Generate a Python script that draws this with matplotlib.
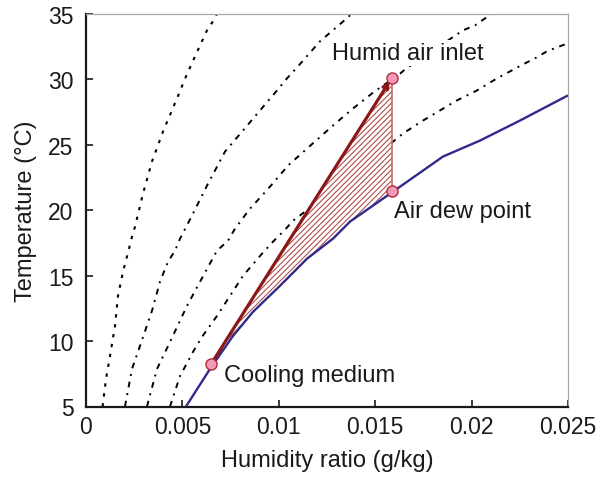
import numpy as np
import matplotlib
matplotlib.use("Agg")
import matplotlib.pyplot as plt
from matplotlib.patches import Polygon

plt.rcParams['font.family'] = ['Liberation Sans', 'DejaVu Sans']
plt.rcParams['hatch.linewidth'] = 0.75
plt.rcParams['hatch.color'] = '#ab4545'

# ---- data (humidity ratio, temperature) ----
rh1_w = [0.00086, 0.001037, 0.001245, 0.001504, 0.00166, 0.001919, 0.00223, 0.002386, 0.002541,
         0.002956, 0.003423, 0.003994, 0.00472, 0.005187, 0.005654, 0.006276, 0.006691, 0.006795]
rh1_t = [5.0, 7.10, 8.86, 11.16, 13.45, 15.29, 17.05, 17.97, 18.73,
         21.26, 23.71, 26.00, 28.53, 30.21, 31.74, 33.73, 34.65, 35.03]

rh2_w = [0.00202, 0.002386, 0.002801, 0.003423, 0.003838, 0.004253, 0.004616, 0.004876, 0.005498,
         0.006068, 0.006328, 0.00721, 0.008143, 0.009025, 0.009907, 0.010425, 0.010996, 0.012137,
         0.01359, 0.013797]
rh2_t = [5.0, 7.87, 9.63, 12.31, 14.53, 16.06, 16.90, 17.82, 19.58,
         21.26, 22.02, 24.47, 26.08, 27.61, 29.14, 30.06, 30.98, 32.89,
         34.73, 35.03]

rh3_w = [0.003164, 0.003683, 0.004357, 0.005239, 0.005913, 0.006795, 0.007365, 0.007728, 0.008506,
         0.009129, 0.009544, 0.010477, 0.011463, 0.012811, 0.013849, 0.014834, 0.015405, 0.016131,
         0.016546, 0.019554, 0.020176, 0.020851, 0.02111]
rh3_t = [5.0, 7.87, 9.93, 12.69, 14.53, 16.90, 17.66, 18.58, 20.11,
         21.11, 21.79, 23.40, 24.70, 26.46, 27.76, 28.91, 29.52, 30.21,
         30.75, 33.73, 34.11, 34.80, 35.03]

rh4_w = [0.004357, 0.004876, 0.00555, 0.006017, 0.006795, 0.007469, 0.008143, 0.009129, 0.009699,
         0.010322, 0.010737, 0.011359, 0.016131, 0.016442, 0.01748, 0.018102, 0.019139, 0.02028,
         0.021318, 0.022666, 0.023288, 0.023911, 0.024429, 0.025]
rh4_t = [5.0, 7.33, 9.17, 10.32, 11.92, 13.45, 14.98, 16.67, 17.59,
         18.50, 19.19, 19.88, 25.47, 25.85, 26.84, 27.38, 28.30, 29.14,
         30.06, 31.13, 31.59, 32.13, 32.43, 32.74]

sat_w = [0.005187, 0.006432, 0.007624, 0.008662, 0.010062, 0.011463, 0.012811, 0.013693,
         0.015923, 0.018517, 0.020436, 0.022510, 0.025]
sat_t = [5.0, 7.87, 10.39, 12.23, 14.22, 16.29, 17.82, 19.12,
         21.41, 24.09, 25.31, 26.84, 28.76]

cool_pt = (0.00648, 8.22)
inlet_pt = (0.01587, 30.12)
dew_pt = (0.01587, 21.47)

labels = ["Humid air inlet", "Air dew point", "Cooling medium"]
label_pos = [(0.01276, 31.55), (0.01598, 19.46), (0.00716, 6.92)]

xticks = [0, 0.005, 0.01, 0.015, 0.02, 0.025]
xticklabels = ["0", "0.005", "0.01", "0.015", "0.02", "0.025"]
yticks = [5, 10, 15, 20, 25, 30, 35]

# ---- figure ----
fig = plt.figure(figsize=(6.06, 4.81), dpi=100)
ax = fig.add_axes([86 / 606, 1 - 407.5 / 481, (568 - 86) / 606, (407.5 - 14.7) / 481])

dash_a = (0, (1.6, 3.2))
dash_b = (0, (3.0, 3.0, 1.0, 3.0))
ax.plot(rh1_w, rh1_t, color='black', lw=1.5, linestyle=dash_a, zorder=1)
ax.plot(rh2_w, rh2_t, color='black', lw=1.4, linestyle=dash_b, zorder=1)
ax.plot(rh3_w, rh3_t, color='black', lw=1.4, linestyle=dash_b, zorder=1)
ax.plot(rh4_w, rh4_t, color='black', lw=1.4, linestyle=dash_b, zorder=1)

# hatched region between process line and saturation curve
sw = np.array(sat_w)
st = np.array(sat_t)
mask = (sw > cool_pt[0]) & (sw < dew_pt[0])
poly = [cool_pt, inlet_pt, dew_pt] + list(zip(sw[mask][::-1], st[mask][::-1]))
patch = Polygon(poly, closed=True, facecolor='white', edgecolor='#ab4545',
                linewidth=0, hatch='//////', zorder=2)
ax.add_patch(patch)
ax.plot([inlet_pt[0], dew_pt[0]], [inlet_pt[1], dew_pt[1]], color='#c86a6a', lw=1.2, zorder=3)

ax.plot(sat_w, sat_t, color='#2f2a8c', lw=1.7, zorder=3, solid_capstyle='butt')

ax.annotate('', xy=inlet_pt, xytext=cool_pt,
            arrowprops=dict(arrowstyle='-|>', color='#8b1717', lw=2.3,
                            mutation_scale=9, shrinkA=0, shrinkB=3),
            zorder=4)

for p in (inlet_pt, dew_pt, cool_pt):
    ax.plot(p[0], p[1], 'o', markersize=8, markerfacecolor='#f49ab8',
            markeredgecolor='#b02a3a', markeredgewidth=1.0, zorder=5)

for i, (txt, pos) in enumerate(zip(labels, label_pos)):
    kw = {}
    if i == 0:
        kw['bbox'] = dict(facecolor='white', edgecolor='none', pad=1.5)
    ax.text(pos[0], pos[1], txt, fontsize=17, color='#1a1a1a', ha='left', va='baseline',
            zorder=6, **kw)

ax.set_xlim(0, 0.025)
ax.set_ylim(5, 35)
ax.set_xticks(xticks)
ax.set_xticklabels(xticklabels)
ax.set_yticks(yticks)
ax.tick_params(axis='both', direction='in', length=5, width=1.2, labelsize=16.5,
               colors='#1a1a1a', top=False, right=False)
ax.tick_params(axis='x', pad=6)
ax.tick_params(axis='y', pad=9)

for s in ('left', 'bottom'):
    ax.spines[s].set_color('#1a1a1a')
    ax.spines[s].set_linewidth(1.6)
for s in ('top', 'right'):
    ax.spines[s].set_color('#a8a8a8')
    ax.spines[s].set_linewidth(0.9)

ax.set_xlabel("Humidity ratio (g/kg)", fontsize=17, color='#1a1a1a', labelpad=8)
ax.set_ylabel("Temperature (°C)", fontsize=17, color='#1a1a1a', labelpad=8)

fig.savefig("out.png", dpi=100)
